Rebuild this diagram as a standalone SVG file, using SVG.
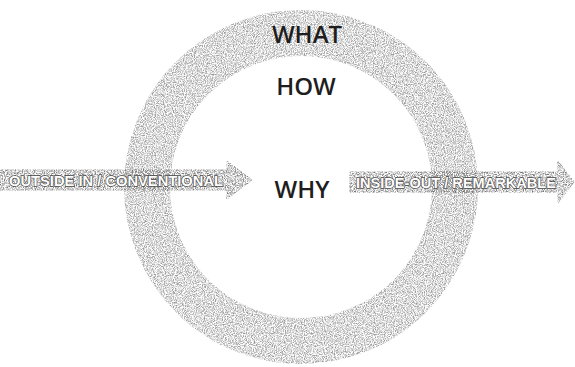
<svg xmlns="http://www.w3.org/2000/svg" width="575" height="367" viewBox="0 0 575 367">
  <style>
    .big { font-family: "Open Sans", "Liberation Sans", sans-serif; font-weight: 600; font-size: 24px; fill: #1e1e1e; text-anchor: middle; }
    .lbl { font-family: "Liberation Sans", "DejaVu Sans", sans-serif; font-weight: bold; font-size: 15px; fill: #ffffff; stroke: #4a4a4a; stroke-width: 1.4; paint-order: stroke; }
    .arrow { fill: #7e7e7e; stroke: #5e5e5e; stroke-width: 1; }
  </style>
  <defs>
    <filter id="stipple" filterUnits="userSpaceOnUse" x="0" y="0" width="575" height="367">
      <feTurbulence type="fractalNoise" baseFrequency="0.9" numOctaves="2" seed="4" result="n"/>
      <feColorMatrix in="n" type="matrix" values="0 0 0 0 0  0 0 0 0 0  0 0 0 0 0  2.6 0 0 0 -0.95" result="a"/>
      <feComposite in="SourceGraphic" in2="a" operator="in"/>
    </filter>
  </defs>
  <rect width="575" height="367" fill="#ffffff"/>
  <g id="ring">
    <circle cx="301" cy="187" r="154" fill="none" stroke="#9a9a9a" stroke-width="46" filter="url(#stipple)"/>
  </g>
  <g id="what"><text class="big" x="307" y="43">WHAT</text></g>
  <g id="how"><text class="big" x="306" y="95">HOW</text></g>
  <g id="why"><text class="big" x="302" y="198">WHY</text></g>
  <g id="connectors">
    <g id="arrow-outside-in">
      <polygon class="arrow" points="0,170 227,170 227,161 252,180 227,199 227,190 0,190" filter="url(#stipple)"/>
      <text class="lbl" x="9" y="185.5" textLength="214" lengthAdjust="spacingAndGlyphs">OUTSIDE IN / CONVENTIONAL</text>
    </g>
    <g id="arrow-inside-out">
      <polygon class="arrow" points="350,172 558,172 558,161 574,182 558,203 558,192 350,192" filter="url(#stipple)"/>
      <text class="lbl" x="356" y="187.5" textLength="200" lengthAdjust="spacingAndGlyphs">INSIDE-OUT / REMARKABLE</text>
    </g>
  </g>
</svg>
